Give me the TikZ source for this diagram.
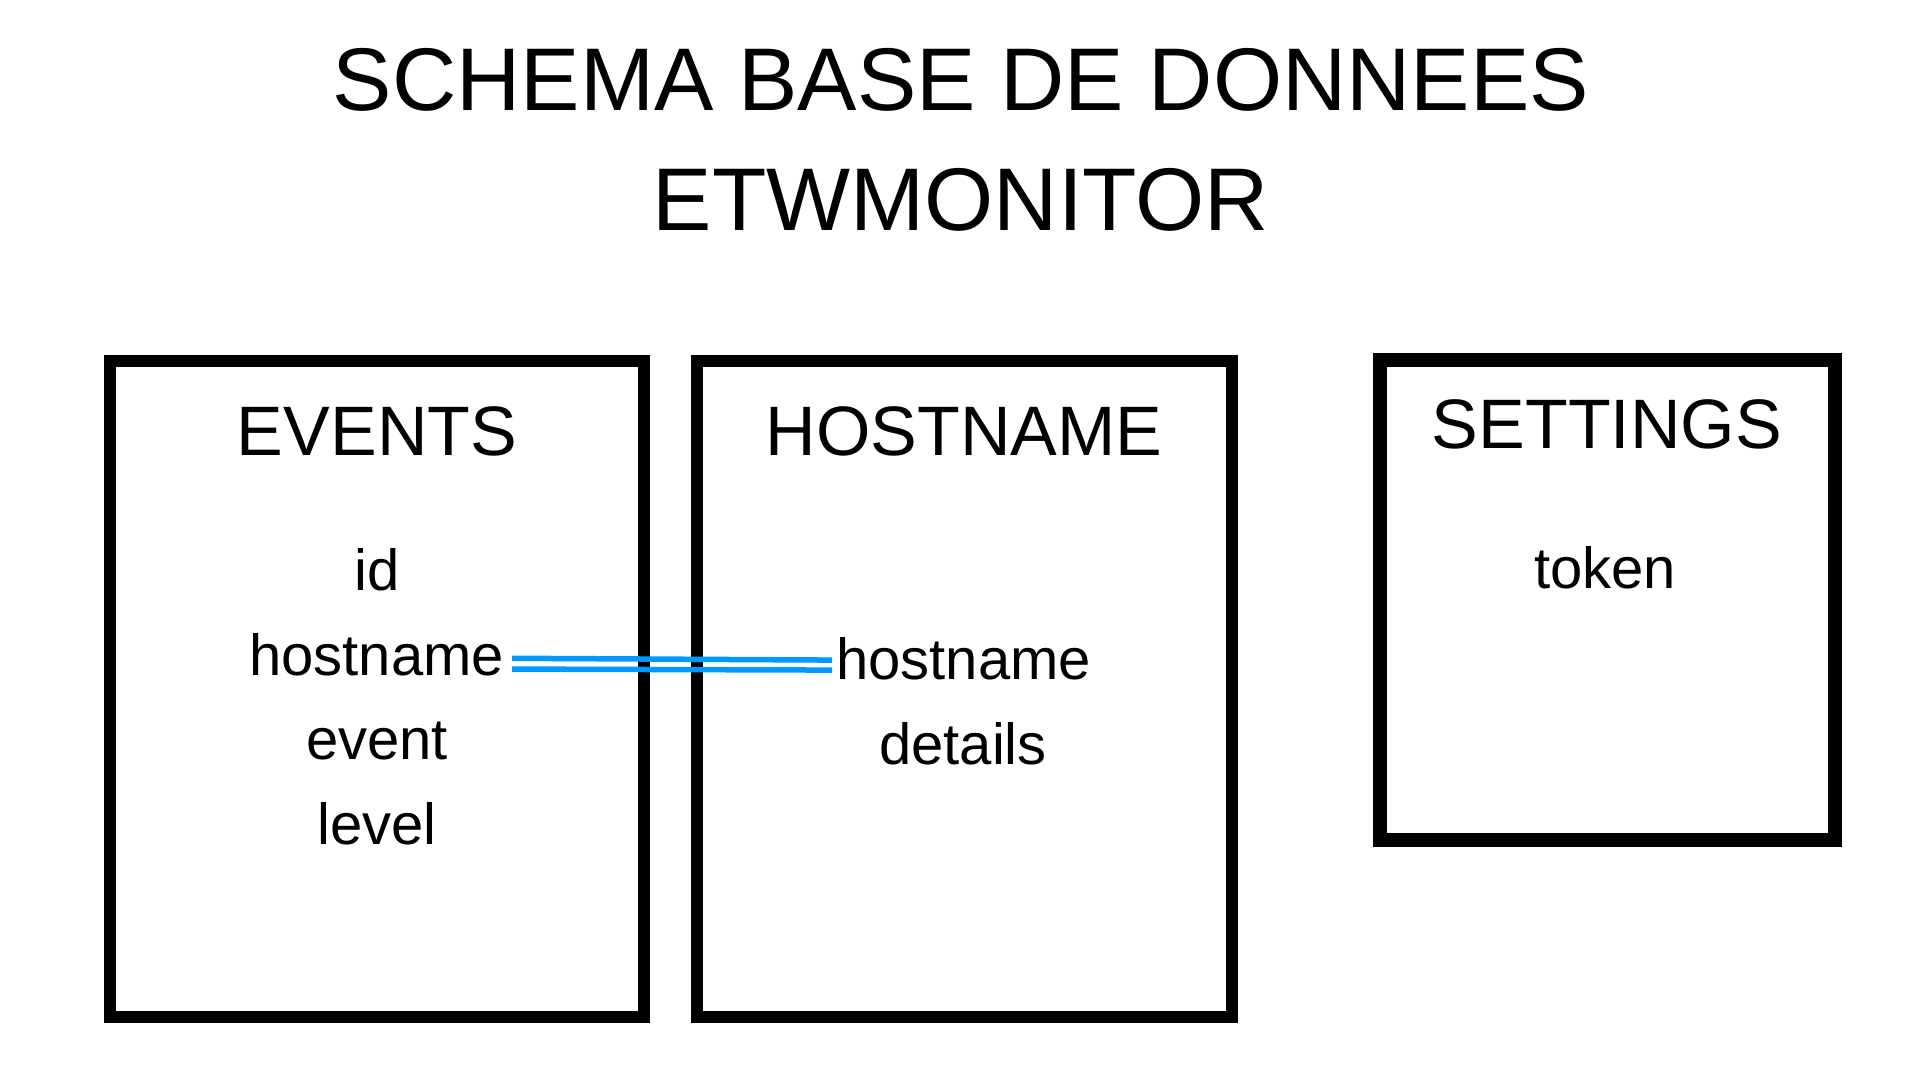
\documentclass[tikz,border=0pt]{standalone}
\usepackage{fontspec}
\setmainfont{Liberation Sans}
\definecolor{linkblue}{RGB}{0,153,255}
\tikzset{
  titletext/.style={anchor=base, inner sep=0pt, font=\fontsize{89pt}{89pt}\selectfont},
  tabletitle/.style={anchor=base, inner sep=0pt, font=\fontsize{70pt}{70pt}\selectfont},
  fieldtext/.style={anchor=base, inner sep=0pt, font=\fontsize{58pt}{58pt}\selectfont},
  tablebox/.style={draw=black, line width=12pt, inner sep=0pt, outer sep=0pt},
  settingsbox/.style={draw=black, line width=14pt, inner sep=0pt, outer sep=0pt},
  linkline/.style={draw=linkblue, line width=5.5pt}
}
\begin{document}
\begin{tikzpicture}[x=1pt,y=-1pt]
\useasboundingbox[fill=white] (0,0) rectangle (1920,1080);

% title
\node[titletext] (title1) at (961,110) {SCHEMA BASE DE DONNEES};
\node[titletext] (title2) at (961,230) {ETWMONITOR};

% tables
\node[tablebox, minimum width=534pt, minimum height=656pt] (evbox) at (377,689) {};
\node[tablebox, minimum width=535pt, minimum height=656pt] (hobox) at (964.5,689) {};
\node[settingsbox, minimum width=455pt, minimum height=480pt] (sebox) at (1607,600) {};

% EVENTS
\node[tabletitle] (evtitle) at (377,455.5) {EVENTS};
\node[fieldtext] (evid) at (377,590) {id};
\node[fieldtext] (evhost) at (376.5,675) {hostname};
\node[fieldtext] (evevent) at (377,759) {event};
\node[fieldtext] (evlevel) at (377,844) {level};

% HOSTNAME
\node[tabletitle] (hotitle) at (964,455.5) {HOSTNAME};
\node[fieldtext] (hohost) at (963.7,679.5) {hostname};
\node[fieldtext] (hodetails) at (963,764) {details};

% SETTINGS
\node[tabletitle] (setitle) at (1607,448) {SETTINGS};
\node[fieldtext] (setoken) at (1605,588) {token};

% link
\draw[linkline] ([xshift=8pt,yshift=-4pt]evhost.east) -- ([xshift=-4pt,yshift=-1.3pt]hohost.west);
\draw[linkline] ([xshift=8pt,yshift=-14.8pt]evhost.east) -- ([xshift=-4pt,yshift=-11.3pt]hohost.west);
\end{tikzpicture}
\end{document}
